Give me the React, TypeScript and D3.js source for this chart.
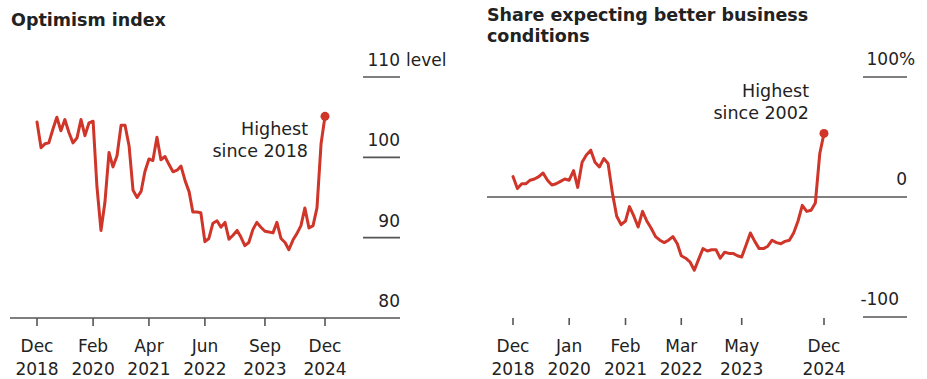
import React from "react";
import * as d3 from "d3";

// Optimism index, monthly Dec 2018 .. Dec 2024
const optimismValues: number[] = [
  104.4,
  101.2, 101.7, 101.8, 103.5, 105.0, 103.3, 104.7, 103.1, 101.8, 102.4, 104.7, 102.7,
  104.3, 104.5, 96.4, 90.9, 94.4, 100.6, 98.8, 100.2, 104.0, 104.0, 101.4, 95.9,
  95.0, 95.8, 98.2, 99.8, 99.6, 102.5, 99.7, 100.1, 99.1, 98.2, 98.4, 98.9,
  97.1, 95.7, 93.2, 93.2, 93.1, 89.5, 89.9, 91.8, 92.1, 91.3, 91.9, 89.8,
  90.3, 90.9, 90.1, 89.0, 89.4, 91.0, 91.9, 91.3, 90.8, 90.7, 90.6, 91.9,
  89.9, 89.4, 88.5, 89.7, 90.5, 91.5, 93.7, 91.2, 91.5, 93.7, 101.7, 105.1,
];

// Net share expecting better business conditions (%), monthly Dec 2018 .. Dec 2024
const betterConditions: number[] = [
  17,
  7, 11, 11, 14, 15, 17, 20, 14, 10, 11, 13, 15,
  14, 22, 8, 29, 35, 39, 29, 25, 32, 28, 3, -16,
  -23, -20, -8, -16, -25, -12, -20, -26, -33, -36, -38, -36,
  -33, -39, -49, -51, -54, -61, -52, -43, -45, -44, -44, -51,
  -46, -47, -47, -49, -50, -40, -30, -37, -43, -43, -41, -36,
  -38, -39, -37, -36, -30, -20, -7, -12, -11, -5, 36, 53,
];

const leftTicks = [
  { date: new Date(2018, 11, 1), l1: "Dec", l2: "2018" },
  { date: new Date(2020, 1, 1), l1: "Feb", l2: "2020" },
  { date: new Date(2021, 3, 1), l1: "Apr", l2: "2021" },
  { date: new Date(2022, 5, 1), l1: "Jun", l2: "2022" },
  { date: new Date(2023, 8, 1), l1: "Sep", l2: "2023" },
  { date: new Date(2024, 11, 1), l1: "Dec", l2: "2024" },
];
const rightTicks = [
  { date: new Date(2018, 11, 1), l1: "Dec", l2: "2018" },
  { date: new Date(2020, 0, 1), l1: "Jan", l2: "2020" },
  { date: new Date(2021, 1, 1), l1: "Feb", l2: "2021" },
  { date: new Date(2022, 2, 1), l1: "Mar", l2: "2022" },
  { date: new Date(2023, 4, 1), l1: "May", l2: "2023" },
  { date: new Date(2024, 11, 1), l1: "Dec", l2: "2024" },
];
const leftYTicks = [110, 100, 90];
const rightYTicks = [100, -100];

const RED = "#cf3529";
const GRAY = "#555";
const TEXT = "#222";
const FONT = "'DejaVu Sans', sans-serif";

const monthDate = (i: number) => new Date(2018, 11 + i, 1);

export default function App() {
  const startD = new Date(2018, 11, 1);
  const endD = new Date(2024, 11, 1);

  // left chart scales
  const xL = d3.scaleTime().domain([startD, endD]).range([37, 325]);
  const yL = d3.scaleLinear().domain([80, 110]).range([318, 77]);
  const lineL = d3
    .line<number>()
    .x((_, i) => xL(monthDate(i)))
    .y((v) => yL(v));

  // right chart scales
  const xR = d3.scaleTime().domain([startD, endD]).range([513, 824]);
  const yR = d3.scaleLinear().domain([-100, 100]).range([317, 77]);
  const lineR = d3
    .line<number>()
    .x((_, i) => xR(monthDate(i)))
    .y((v) => yR(v));

  const lastL = optimismValues[optimismValues.length - 1];
  const lastR = betterConditions[betterConditions.length - 1];

  return (
    <svg
      width={927}
      height={379}
      style={{ position: "absolute", left: 0, top: 0, background: "#fff" }}
      fontFamily={FONT}
    >
      <rect x={0} y={0} width={927} height={379} fill="#fff" />
      {/* ---------- Left chart ---------- */}
      <text x={11} y={26} fontSize={17.5} fontWeight="bold" fill={TEXT}>
        Optimism index
      </text>
      {leftYTicks.map((t) => (
        <g key={t}>
          <line x1={363} x2={400} y1={yL(t)} y2={yL(t)} stroke={GRAY} strokeWidth={1.6} />
          <text x={400} y={yL(t) - 11} fontSize={17} fill={TEXT} textAnchor="end">
            {t}
          </text>
        </g>
      ))}
      <text x={406} y={yL(110) - 11} fontSize={17} fill={TEXT}>
        level
      </text>
      <text x={400} y={yL(80) - 11} fontSize={17} fill={TEXT} textAnchor="end">
        80
      </text>
      <line x1={10} x2={400} y1={yL(80)} y2={yL(80)} stroke={GRAY} strokeWidth={1.6} />
      {leftTicks.map((t) => (
        <g key={t.l1 + t.l2} transform={`translate(${xL(t.date)},0)`}>
          <line y1={318} y2={326} stroke={GRAY} strokeWidth={1.6} />
          <text y={352} fontSize={17} fill={TEXT} textAnchor="middle">
            {t.l1}
          </text>
          <text y={375} fontSize={17} fill={TEXT} textAnchor="middle">
            {t.l2}
          </text>
        </g>
      ))}
      <path
        d={lineL(optimismValues) || ""}
        fill="none"
        stroke={RED}
        strokeWidth={3}
        strokeLinejoin="round"
        strokeLinecap="round"
      />
      <circle cx={xL(endD)} cy={yL(lastL)} r={4.5} fill={RED} />
      <text x={308} y={135} fontSize={17.5} fill={TEXT} textAnchor="end">
        Highest
      </text>
      <text x={308} y={157} fontSize={17.5} fill={TEXT} textAnchor="end">
        since 2018
      </text>

      {/* ---------- Right chart ---------- */}
      <text x={487} y={21} fontSize={17.5} fontWeight="bold" fill={TEXT}>
        Share expecting better business
      </text>
      <text x={487} y={42} fontSize={17.5} fontWeight="bold" fill={TEXT}>
        conditions
      </text>
      {rightYTicks.map((t) => (
        <g key={t}>
          <line x1={863} x2={907} y1={yR(t)} y2={yR(t)} stroke={GRAY} strokeWidth={1.6} />
          <text x={899} y={yR(t) - 12} fontSize={17} fill={TEXT} textAnchor="end">
            {t}
          </text>
        </g>
      ))}
      <text x={899} y={yR(100) - 12} fontSize={17} fill={TEXT}>
        %
      </text>
      <line x1={487} x2={907} y1={yR(0)} y2={yR(0)} stroke={GRAY} strokeWidth={1.6} />
      <text x={907} y={yR(0) - 12} fontSize={17} fill={TEXT} textAnchor="end">
        0
      </text>
      {rightTicks.map((t) => (
        <g key={t.l1 + t.l2} transform={`translate(${xR(t.date)},0)`}>
          <line y1={318} y2={325} stroke={GRAY} strokeWidth={1.6} />
          <text y={352} fontSize={17} fill={TEXT} textAnchor="middle">
            {t.l1}
          </text>
          <text y={375} fontSize={17} fill={TEXT} textAnchor="middle">
            {t.l2}
          </text>
        </g>
      ))}
      <path
        d={lineR(betterConditions) || ""}
        fill="none"
        stroke={RED}
        strokeWidth={3}
        strokeLinejoin="round"
        strokeLinecap="round"
      />
      <circle cx={xR(endD)} cy={yR(lastR)} r={4.5} fill={RED} />
      <text x={809} y={97} fontSize={17.5} fill={TEXT} textAnchor="end">
        Highest
      </text>
      <text x={809} y={119} fontSize={17.5} fill={TEXT} textAnchor="end">
        since 2002
      </text>
    </svg>
  );
}
